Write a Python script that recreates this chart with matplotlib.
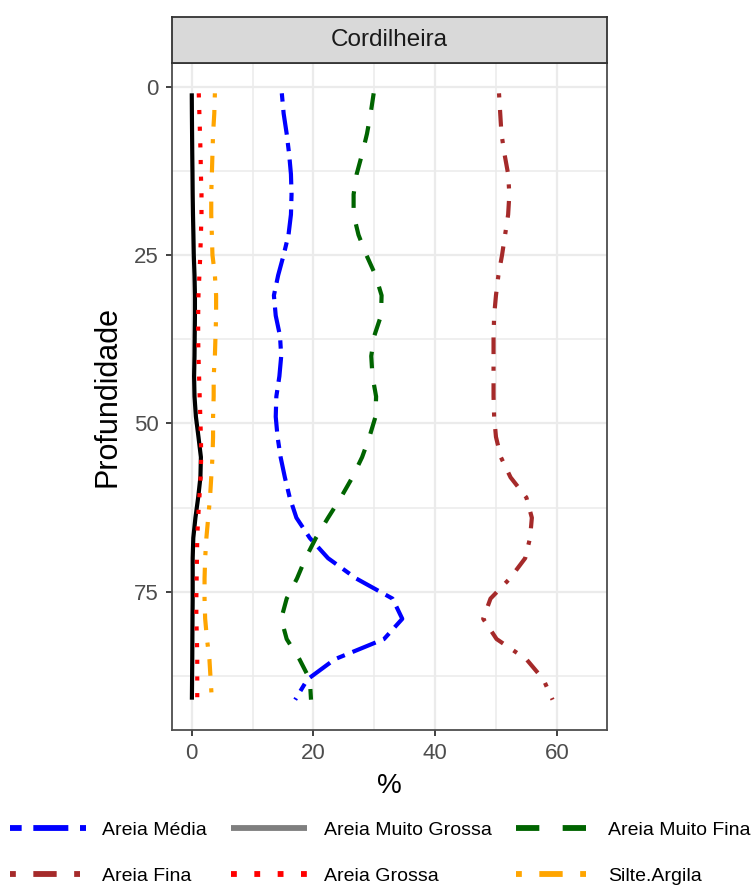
import matplotlib.pyplot as plt
import numpy as np
from matplotlib.lines import Line2D

plt.rcParams["font.family"] = ["Liberation Sans", "DejaVu Sans"]

# profundidade (cm)
depth = [1, 4, 7, 10, 13, 16, 19, 22, 25, 28, 31, 34, 37, 40, 43, 46,
         49, 52, 55, 58, 61, 64, 67, 70, 73, 76, 79, 82, 85, 88, 91]

# frações granulométricas (%)
areia_media = [14.8, 15.1, 15.6, 16.0, 16.3, 16.4, 16.3, 15.9, 15.1, 14.2, 13.5,
               13.8, 14.5, 14.7, 14.4, 13.9, 13.8, 14.1, 14.6, 15.3, 16.1, 17.2,
               19.4, 22.4, 27.0, 33.0, 34.6, 31.6, 23.5, 19.0, 17.0]
areia_muito_grossa = [0.0, 0.02, 0.05, 0.08, 0.12, 0.15, 0.2, 0.27, 0.33, 0.45, 0.52,
                      0.52, 0.48, 0.45, 0.38, 0.45, 0.68, 1.1, 1.5, 1.42, 1.05, 0.6,
                      0.25, 0.15, 0.15, 0.15, 0.12, 0.1, 0.08, 0.05, 0.02]
areia_muito_fina = [29.9, 29.4, 28.8, 28.0, 27.1, 26.6, 26.6, 27.4, 28.7, 30.2, 31.2,
                    31.1, 30.0, 29.5, 29.7, 30.3, 30.2, 29.2, 28.0, 26.4, 24.5, 22.4,
                    20.4, 18.7, 17.3, 15.6, 14.7, 15.6, 17.7, 19.4, 19.6]
areia_fina = [50.5, 50.7, 50.9, 51.4, 52.0, 52.2, 52.0, 51.5, 51.0, 50.4, 50.0,
              49.7, 49.6, 49.6, 49.6, 49.6, 49.7, 50.0, 50.8, 52.4, 55.0, 55.9,
              55.6, 54.8, 52.3, 49.1, 47.9, 50.1, 55.0, 57.8, 59.3]
areia_grossa = [1.15, 1.25, 1.35, 1.45, 1.5, 1.6, 1.6, 1.5, 1.4, 1.25, 1.1,
                1.05, 1.05, 1.1, 1.2, 1.3, 1.4, 1.5, 1.55, 1.45, 1.25, 1.05,
                0.9, 0.85, 0.8, 0.75, 0.75, 0.85, 0.9, 0.9, 0.9]
silte_argila = [3.8, 3.7, 3.5, 3.4, 3.3, 3.2, 3.2, 3.3, 3.4, 3.8, 4.0,
                4.0, 3.9, 3.8, 3.6, 3.6, 3.5, 3.5, 3.4, 3.2, 3.0, 2.7,
                2.4, 2.2, 2.1, 2.1, 2.2, 2.5, 2.9, 3.1, 3.3]

series = [
    ("Areia Média", areia_media, "#0000FF", (2, 2, 6, 2)),
    ("Areia Muito Grossa", areia_muito_grossa, "black", None),
    ("Areia Muito Fina", areia_muito_fina, "#006400", (4, 4)),
    ("Areia Fina", areia_fina, "#A52A2A", (1, 3, 4, 3)),
    ("Areia Grossa", areia_grossa, "#FF0000", (1, 3)),
    ("Silte.Argila", silte_argila, "#FFA500", (1, 3, 4, 3)),
]

W, H = 752, 888
fig = plt.figure(figsize=(W / 100, H / 100), dpi=100)
left, right, top, bottom = 172, 607, 63, 730
ax = fig.add_axes([left / W, 1 - bottom / H, (right - left) / W, (bottom - top) / H])

for name, vals, col, dash in series:
    ln, = ax.plot(vals, depth, color=col, lw=3.0, solid_capstyle="butt",
                  dash_capstyle="butt")
    if dash:
        ln.set_dashes(dash)

ax.set_xlim(-3.25, 68.25)
ax.set_ylim(95.5, -3.5)
ax.set_xticks([0, 20, 40, 60])
ax.set_xticks([10, 30, 50], minor=True)
ax.set_yticks([0, 25, 50, 75])
ax.set_yticks([12.5, 37.5, 62.5, 87.5], minor=True)
ax.grid(which="major", color="#EBEBEB", lw=1.6)
ax.grid(which="minor", color="#EBEBEB", lw=1.1)
ax.set_axisbelow(True)
ax.tick_params(which="major", length=4.5, width=1.3, color="#333333",
               labelsize=16, labelcolor="#4D4D4D", pad=5)
ax.tick_params(which="minor", length=0)
for s in ax.spines.values():
    s.set_color("#4D4D4D")
    s.set_linewidth(1.3)
ax.set_xlabel("%", fontsize=20, labelpad=6)
ax.set_ylabel("Profundidade", fontsize=22, labelpad=8)

# faixa do painel
strip = fig.add_axes([left / W, 1 - top / H, (right - left) / W, 46 / H])
strip.set_facecolor("#D9D9D9")
strip.set_xticks([])
strip.set_yticks([])
for s in strip.spines.values():
    s.set_color("#333333")
    s.set_linewidth(1.3)
strip.text(0.5, 0.5, "Cordilheira", ha="center", va="center", fontsize=17.5,
           color="#1A1A1A", transform=strip.transAxes)

# legenda
key_colors = {"Areia Muito Grossa": "#7F7F7F"}
handles = {}
for name, vals, col, dash in series:
    h = Line2D([], [], color=key_colors.get(name, col), lw=4.2, solid_capstyle="butt",
               dash_capstyle="butt")
    if dash:
        h.set_dashes(dash)
    handles[name] = h
order = ["Areia Média", "Areia Fina", "Areia Muito Grossa", "Areia Grossa",
         "Areia Muito Fina", "Silte.Argila"]
fig.legend([handles[n] for n in order], order, loc="center left",
           bbox_to_anchor=(10 / W, 1 - 853 / H), ncol=3, frameon=False,
           fontsize=14, handlelength=3.9, handletextpad=0.85, columnspacing=1.25,
           labelspacing=1.45, borderpad=0, borderaxespad=0)

fig.savefig("out.png", dpi=100)
